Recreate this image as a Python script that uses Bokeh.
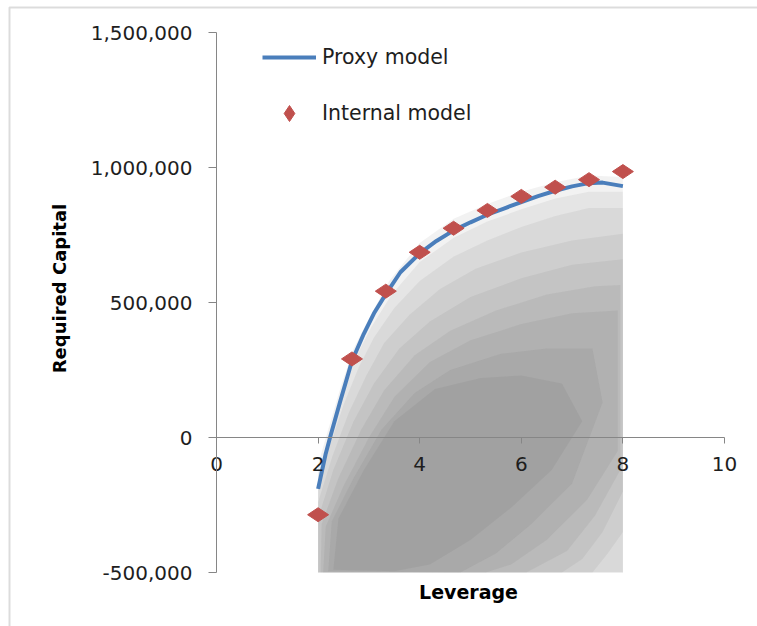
import math
from bokeh.plotting import figure
from bokeh.models import (Range1d, LinearAxis, FixedTicker, NumeralTickFormatter,
                          Legend, LegendItem, BoxAnnotation, Label)
from bokeh.embed import file_html
from bokeh.resources import INLINE

# ---------------- data ----------------
x_ticks = [0, 2, 4, 6, 8, 10]
y_ticks = [-500000, 0, 500000, 1000000, 1500000]

proxy_x = [2.0, 2.15, 2.25, 2.44, 2.67, 2.9, 3.1, 3.33, 3.62, 4.0, 4.33, 4.67,
           5.0, 5.33, 5.67, 6.0, 6.33, 6.67, 7.0, 7.33, 7.6, 8.0]
proxy_y = [-190000, -60000, 10000, 137000, 285000, 384000, 460000, 530000, 612000,
           682000, 728000, 767000, 797000, 825000, 849000, 872000, 894000, 914000,
           930000, 942000, 944000, 931000]

internal_x = [2.0, 2.667, 3.333, 4.0, 4.667, 5.333, 6.0, 6.667, 7.333, 8.0]
internal_y = [-286000, 291000, 542000, 686000, 775000, 841000, 893000, 927000, 955000, 985000]

# simulated-scenario cloud, drawn as nested density envelopes (outer -> core)
cloud1_x = [2, 2, 2.2, 2.45, 2.7, 3.0, 3.4, 4.0, 4.67, 5.33, 6.0, 6.67, 7.33, 8.0, 8.0]
cloud1_y = [-500000, -100000, 30000, 190000, 330000, 440000, 580000, 720000, 810000,
            865000, 910000, 945000, 970000, 965000, -500000]
cloud2_x = [2, 2, 2.22, 2.48, 2.75, 3.05, 3.45, 4.0, 4.67, 5.33, 6.0, 6.67, 7.33, 8.0, 8.0]
cloud2_y = [-500000, -140000, 0, 150000, 300000, 410000, 530000, 650000, 740000,
            800000, 845000, 885000, 910000, 910000, -500000]
cloud3_x = [2, 2, 2.25, 2.5, 2.8, 3.1, 3.5, 4.0, 4.67, 5.33, 6.0, 6.67, 7.33, 8.0, 8.0]
cloud3_y = [-500000, -180000, -20000, 120000, 260000, 370000, 480000, 580000, 670000,
            730000, 780000, 820000, 850000, 850000, -500000]
cloud4_x = [2, 2, 2.28, 2.6, 2.95, 3.3, 3.8, 4.4, 5.1, 6.0, 7.0, 8.0, 8.0, 7.7, 7.4]
cloud4_y = [-500000, -240000, -70000, 90000, 230000, 350000, 455000, 550000, 625000,
            685000, 730000, 755000, -350000, -430000, -500000]
cloud5_x = [2, 2, 2.3, 2.7, 3.1, 3.6, 4.2, 5.0, 6.0, 7.0, 8.0, 8.0, 7.6, 7.2, 6.8]
cloud5_y = [-500000, -300000, -120000, 60000, 200000, 330000, 430000, 520000, 590000,
            640000, 660000, -200000, -350000, -450000, -500000]
cloud6_x = [2.05, 2.07, 2.4, 2.85, 3.3, 3.9, 4.6, 5.5, 6.5, 7.45, 7.95, 7.95, 7.45, 6.9, 6.1]
cloud6_y = [-500000, -320000, -150000, 30000, 175000, 305000, 395000, 470000, 530000,
            560000, 565000, -120000, -290000, -420000, -500000]
cloud7_x = [2.1, 2.15, 2.5, 3.0, 3.5, 4.2, 5.0, 6.0, 7.0, 7.9, 7.9, 7.3, 6.5, 5.8, 5.3]
cloud7_y = [-500000, -330000, -180000, 0, 150000, 280000, 360000, 420000, 460000,
            470000, -50000, -230000, -380000, -470000, -500000]
cloud8_x = [2.2, 2.27, 2.7, 3.25, 3.9, 4.6, 5.6, 6.5, 7.4, 7.6, 7.0, 6.2, 5.5, 4.8]
cloud8_y = [-495000, -310000, -150000, 30000, 165000, 250000, 310000, 330000, 330000,
            130000, -170000, -320000, -430000, -500000]
cloud9_x = [2.3, 2.4, 2.9, 3.5, 4.3, 5.2, 6.0, 6.8, 7.2, 6.6, 5.8, 5.0, 4.2, 3.5]
cloud9_y = [-490000, -300000, -120000, 60000, 180000, 220000, 230000, 200000, 60000,
            -120000, -260000, -380000, -470000, -495000]

# ---------------- layout (pixel calibration of the plot area) ----------------
W, H = 757, 626
X0_PX, X_SCALE = 216, 50.8          # px of x=0, px per unit
Y0_PX, Y_SCALE = 437, 270e-6        # px of y=0, px per unit

x_range = Range1d(-X0_PX / X_SCALE, (W - X0_PX) / X_SCALE)
y_range = Range1d(-(H - Y0_PX) / Y_SCALE, Y0_PX / Y_SCALE)

p = figure(width=W, height=H, output_backend="svg", toolbar_location=None,
           x_range=x_range, y_range=y_range,
           x_axis_location=None, y_axis_location=None,
           min_border=0)
p.outline_line_color = None
p.grid.visible = False
p.background_fill_color = "white"
p.border_fill_color = "white"

AX = "#868686"
FONT = "DejaVu Sans"
TXT = "#1e1e1e"

ya = LinearAxis(fixed_location=0, bounds=(y_ticks[0], y_ticks[-1]),
                ticker=FixedTicker(ticks=y_ticks),
                formatter=NumeralTickFormatter(format="0,0"))
ya.minor_tick_line_color = None
ya.major_tick_in = 0
ya.major_tick_out = 8
ya.axis_line_color = AX
ya.major_tick_line_color = AX
ya.major_label_text_font = FONT
ya.major_label_text_font_size = "20px"
ya.major_label_text_color = TXT
ya.major_label_standoff = 16
p.add_layout(ya, "left")

xa = LinearAxis(fixed_location=0, bounds=(x_ticks[0], x_ticks[-1]),
                ticker=FixedTicker(ticks=x_ticks))
xa.minor_tick_line_color = None
xa.major_tick_in = 0
xa.major_tick_out = 6
xa.axis_line_color = AX
xa.major_tick_line_color = AX
xa.major_label_text_font = FONT
xa.major_label_text_font_size = "20px"
xa.major_label_text_color = TXT
xa.major_label_standoff = 13
p.add_layout(xa, "below")

# cloud
for cx, cy in [(cloud1_x, cloud1_y), (cloud2_x, cloud2_y), (cloud3_x, cloud3_y),
               (cloud4_x, cloud4_y), (cloud5_x, cloud5_y), (cloud6_x, cloud6_y),
               (cloud7_x, cloud7_y), (cloud8_x, cloud8_y), (cloud9_x, cloud9_y)]:
    p.patch(cx, cy, fill_color="#404040", fill_alpha=0.068, line_color=None)

line_r = p.line(proxy_x, proxy_y, line_color="#4A7EBB", line_width=4)
dia_r = p.scatter(internal_x, internal_y, marker="diamond", angle=math.pi / 2, size=21,
                  fill_color="#C0504D", line_color="#C0504D")

legend = Legend(items=[LegendItem(label="Proxy model", renderers=[line_r]),
                       LegendItem(label="Internal model", renderers=[dia_r])],
                location=(262, H - 133), orientation="vertical",
                glyph_width=54, glyph_height=40, label_height=40, label_standoff=6,
                spacing=16, padding=0, margin=0,
                border_line_color=None, background_fill_alpha=0,
                label_text_font=FONT, label_text_font_size="20.5px",
                label_text_color=TXT)
p.add_layout(legend)

p.add_layout(Label(x=59, y=H - 288, x_units="screen", y_units="screen",
                   text="Required Capital", angle=math.pi / 2,
                   text_align="center", text_baseline="middle",
                   text_font=FONT, text_font_style="bold", text_font_size="18px",
                   text_color="black"))
p.add_layout(Label(x=468, y=H - 591, x_units="screen", y_units="screen",
                   text="Leverage", text_align="center", text_baseline="middle",
                   text_font=FONT, text_font_style="bold", text_font_size="19px",
                   text_color="black"))

# outer chart-area border (left and top edges visible in the window)
p.add_layout(BoxAnnotation(left=9, right=W + 100, top=H - 7, bottom=-100,
                           left_units="screen", right_units="screen",
                           top_units="screen", bottom_units="screen",
                           fill_color=None, line_color="#8c8c8c", line_width=2))

open("out.html", "w").write(file_html(p, INLINE))
